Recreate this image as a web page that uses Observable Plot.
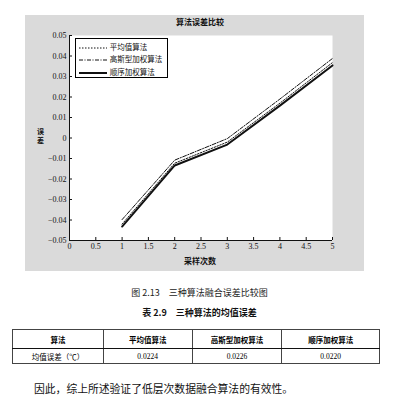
<!DOCTYPE html>
<html><head><meta charset="utf-8">
<script src="https://cdn.jsdelivr.net/npm/d3@7"></script>
<script src="https://cdn.jsdelivr.net/npm/@observablehq/plot@0.6"></script>
<style>
body{margin:0;background:#fff;width:399px;height:402px;position:relative;overflow:hidden;font-family:"Liberation Serif","Noto Sans CJK SC",serif;}
#fig{position:absolute;left:25px;top:15px;width:339px;height:256px;background:#dadada;}
#title{position:absolute;left:25px;top:16px;width:350px;text-align:center;font:bold 8px "Noto Sans CJK SC";color:#111;}
.ych{position:absolute;left:37px;width:8px;height:8px;font:bold 7px "Noto Sans CJK SC";line-height:8px;color:#111;}
#xlab{position:absolute;left:25px;top:255px;width:350px;text-align:center;font:bold 8px "Noto Sans CJK SC";color:#111;}
#legend{position:absolute;left:75px;top:38px;width:93px;height:40px;border:1px solid #000;background:#fff;box-sizing:border-box;}
#legend div{position:absolute;left:2px;height:12px;font:7.5px "Noto Sans CJK SC";color:#111;white-space:nowrap;}
#legend svg{vertical-align:middle;}
#cap{position:absolute;left:0;top:286px;width:399px;text-align:center;font:9px "Noto Sans CJK SC";color:#222;}
#ttl{position:absolute;left:0;top:306px;width:399px;text-align:center;font:bold 9px "Noto Sans CJK SC";color:#111;}
table{position:absolute;left:12px;top:329px;width:368px;border-collapse:collapse;border:1.5px solid #111;}
td{border:1px solid #444;text-align:center;padding:0;}
tr.h td{height:18px;font:bold 7.5px "Noto Sans CJK SC";border-bottom:1.5px solid #111;}
tr.b td{height:14px;font:7.5px "Liberation Serif","Noto Sans CJK SC";}
#txt{position:absolute;left:34px;top:380px;font:10.8px "Noto Sans CJK SC";color:#111;}
</style></head><body>
<div id="fig"></div>
<div id="title">算法误差比较</div>
<div class="ych" style="top:127px">误</div>
<div class="ych" style="top:136px">差</div>
<div id="xlab">采样次数</div>
<div id="legend"></div>
<div id="cap">图 2.13　三种算法融合误差比较图</div>
<div id="ttl">表 2.9　三种算法的均值误差</div>
<table id="tab"></table>
<div id="txt">因此，综上所述验证了低层次数据融合算法的有效性。</div>
<script>
const samples = [1, 2, 3, 4, 5];
const avgErr = [-0.042, -0.0123, -0.002, 0.017, 0.0368];
const gaussErr = [-0.0398, -0.0108, -0.0003, 0.019, 0.0388];
const seqErr = [-0.0432, -0.0134, -0.0032, 0.0158, 0.0354];
const seriesNames = ["平均值算法", "高斯型加权算法", "顺序加权算法"];
const xTicks = [0, 0.5, 1, 1.5, 2, 2.5, 3, 3.5, 4, 4.5, 5];
const yTicks = [-0.05, -0.04, -0.03, -0.02, -0.01, 0, 0.01, 0.02, 0.03, 0.04, 0.05];
const tableHeader = ["算法", "平均值算法", "高斯型加权算法", "顺序加权算法"];
const tableRow = ["均值误差（℃）", "0.0224", "0.0226", "0.0220"];

const styles = [
  {dash: "1.5,1.5", w: 1},
  {dash: "4,1.5,1,1.5", w: 1},
  {dash: null, w: 2}
];
const allVals = [avgErr, gaussErr, seqErr];
const data = allVals.flatMap((vals, si) => samples.map((x, i) => ({x, y: vals[i], s: seriesNames[si]})));

const fmt = d => d === 0 ? "0" : (d < 0 ? "−" : "") + Math.abs(d).toFixed(2);
const plot = Plot.plot({
  width: 339, height: 256,
  marginLeft: 44, marginRight: 32, marginTop: 20, marginBottom: 31,
  style: {background: "transparent", fontFamily: "Liberation Serif", fontSize: "8px", color: "#111"},
  x: {domain: [0, 5]},
  y: {domain: [-0.05, 0.05]},
  marks: [
    Plot.frame({fill: "white", stroke: null}),
    Plot.axisX({ticks: xTicks, tickSize: -3, tickPadding: 6, label: null, tickFormat: d => String(d)}),
    Plot.axisY({ticks: yTicks, tickSize: -3, tickPadding: 6, label: null, tickFormat: fmt}),
    Plot.ruleX([0], {stroke: "#111", strokeWidth: 1}),
    Plot.ruleY([-0.05], {stroke: "#111", strokeWidth: 1}),
    ...seriesNames.map((name, si) => Plot.line(data.filter(d => d.s === name), {
      x: "x", y: "y", stroke: "#111", strokeWidth: styles[si].w,
      strokeDasharray: styles[si].dash
    }))
  ]
});
document.getElementById("fig").appendChild(plot);

// legend
const leg = document.getElementById("legend");
seriesNames.forEach((name, si) => {
  const d = document.createElement("div");
  d.style.top = (2 + si * 12.3) + "px";
  d.innerHTML = `<svg width="30" height="8"><line x1="1" x2="29" y1="4" y2="4" stroke="#111" stroke-width="${styles[si].w}" ${styles[si].dash ? `stroke-dasharray="${styles[si].dash}"` : ""}/></svg> ${name}`;
  leg.appendChild(d);
});

// table
const tab = document.getElementById("tab");
const widths = [91, 89, 90, 98];
const h = document.createElement("tr"); h.className = "h";
tableHeader.forEach((t, i) => { const c = document.createElement("td"); c.textContent = t; c.style.width = widths[i] + "px"; h.appendChild(c); });
const b = document.createElement("tr"); b.className = "b";
tableRow.forEach((t, i) => { const c = document.createElement("td"); c.textContent = t; if (i === 0) c.style.fontFamily = "Noto Sans CJK SC"; b.appendChild(c); });
tab.appendChild(h); tab.appendChild(b);
</script>
</body></html>
